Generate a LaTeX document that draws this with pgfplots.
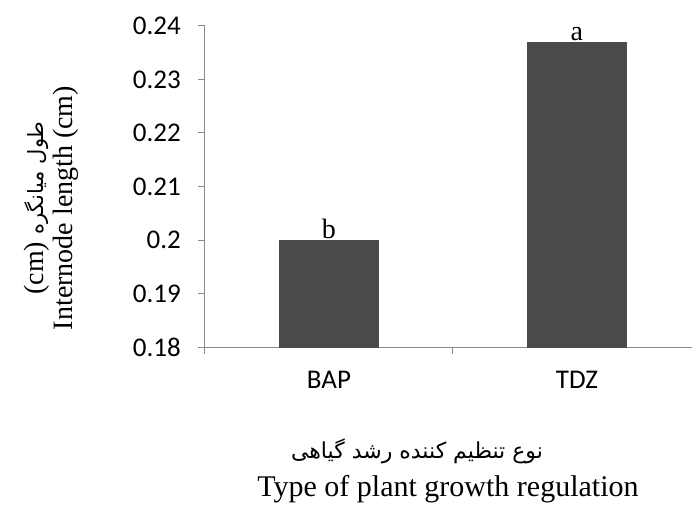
\documentclass[border=0pt]{standalone}
\usepackage{fontspec}
\setmainfont{Liberation Serif}
\newfontfamily\calibri{Carlito}
\newfontfamily\arabicfont[Script=Arabic]{DejaVu Sans}
\TeXXeTstate=1
\usepackage{pgfplots}
\pgfplotsset{compat=1.18}
\definecolor{axisgray}{HTML}{8A8A8A}
\definecolor{bargray}{HTML}{4A4A4A}
\begin{document}
\begin{tikzpicture}
\begin{axis}[
  at={(0,0)}, anchor=south west,
  scale only axis,
  width=487bp, height=321bp,
  axis lines*=left,
  axis line style={axisgray, line width=1bp},
  tick align=outside,
  tick style={axisgray, line width=1bp},
  major tick length=7bp,
  xmin=-0.5, xmax=1.464,
  ymin=0.18, ymax=0.24,
  ytick={0.18,0.19,0.2,0.21,0.22,0.23,0.24},
  yticklabels={0.18,0.19,0.2,0.21,0.22,0.23,0.24},
  yticklabel style={font=\calibri\fontsize{27bp}{32bp}\selectfont, inner sep=0pt, xshift=-17bp},
  xtick={-0.5,0.5},
  xticklabels={},
  extra x ticks={0,1},
  extra x tick labels={BAP,TDZ},
  extra x tick style={major tick length=0pt,
    xticklabel style={font=\calibri\fontsize{27bp}{32bp}\selectfont, inner sep=0pt, yshift=-24bp}},
  ybar, bar width=99bp,
  nodes near coords=\pgfplotspointmeta,
  point meta=explicit symbolic,
  every node near coord/.append style={font=\fontsize{28bp}{32bp}\selectfont, inner sep=1bp, text=black},
]
\addplot[fill=bargray, draw=bargray] coordinates {(0,0.2) [b] (1,0.237) [a]};
\end{axis}
\node[rotate=90, align=center, font=\fontsize{28bp}{29bp}\selectfont] at (-154bp,139bp)
  {(cm) {\arabicfont\fontsize{21bp}{29bp}\selectfont\beginR طول میانگره\endR}\\Internode length (cm)};
\node[font=\arabicfont\fontsize{22bp}{26bp}\selectfont] at (212bp,-104bp) {\beginR نوع تنظیم کننده رشد گیاهی\endR};
\node[font=\fontsize{30bp}{32bp}\selectfont] at (243bp,-142bp) {Type of plant growth regulation};
\pgfresetboundingbox
\path (-205bp,-159bp) rectangle (489bp,347bp);
\end{tikzpicture}
\end{document}
